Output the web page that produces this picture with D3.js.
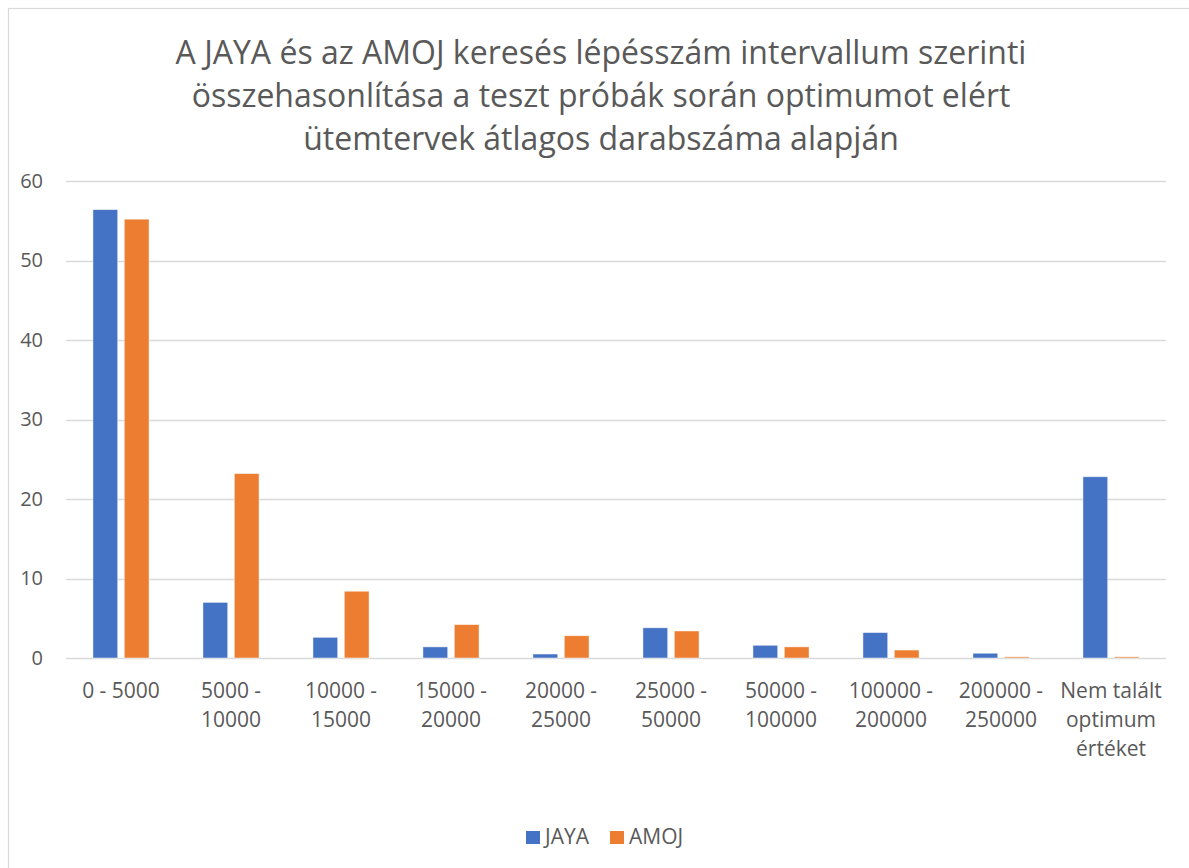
<!DOCTYPE html>
<html>
<head>
<meta charset="utf-8">
<script src="https://cdn.jsdelivr.net/npm/d3@7"></script>
<style>
  body { margin: 0; background: #fff; }
  svg { display: block; font-family: "Open Sans", "Noto Sans", sans-serif; }
</style>
</head>
<body>
<svg id="chart" width="1189" height="868"></svg>
<script>
// chart data
const categories = [
  '0 - 5000', '5000 -\n10000', '10000 -\n15000', '15000 -\n20000', '20000 -\n25000',
  '25000 -\n50000', '50000 -\n100000', '100000 -\n200000', '200000 -\n250000',
  'Nem talált\noptimum\nértéket'
];
const seriesNames = ['JAYA', 'AMOJ'];
const jayaValues = [56.4, 7.0, 2.6, 1.4, 0.5, 3.8, 1.6, 3.2, 0.6, 22.8];
const amojValues = [55.2, 23.2, 8.4, 4.2, 2.8, 3.4, 1.4, 1.0, 0.15, 0.15];
const yTicks = [0, 10, 20, 30, 40, 50, 60];
const colors = ['#4472C4', '#ED7D31'];
const titleLines = [
  'A JAYA és az AMOJ keresés lépésszám intervallum szerinti',
  'összehasonlítása a teszt próbák során optimumot elért',
  'ütemtervek átlagos darabszáma alapján'
];

const textColor = '#595959';
const gridColor = '#D9D9D9';

const svg = d3.select('#chart');
const plot = { left: 66, right: 1166, top: 181, bottom: 658 };

// chart border (runs off the right / bottom edge like the original)
svg.append('rect')
  .attr('x', 8.5).attr('y', 8.5)
  .attr('width', 1200).attr('height', 900)
  .attr('fill', '#fff')
  .attr('stroke', gridColor)
  .attr('stroke-width', 1.2);

// title
svg.append('g')
  .selectAll('text')
  .data(titleLines)
  .enter()
  .append('text')
  .attr('x', 601)
  .attr('y', (d, i) => 64 + i * 43)
  .attr('text-anchor', 'middle')
  .attr('fill', textColor)
  .style('font-size', '32px')
  .text((d) => d);

const y = d3.scaleLinear().domain([0, 60]).range([plot.bottom, plot.top]);
const x0 = d3.scaleBand()
  .domain(categories)
  .range([plot.left, plot.right])
  .paddingInner(0.49)
  .paddingOuter(0.245);
const x1 = d3.scaleBand()
  .domain(seriesNames)
  .range([0, x0.bandwidth()])
  .paddingInner(0.21);

// gridlines
svg.append('g')
  .selectAll('line')
  .data(yTicks)
  .enter()
  .append('line')
  .attr('x1', plot.left)
  .attr('x2', plot.right)
  .attr('y1', (d) => Math.round(y(d)) + 0.5)
  .attr('y2', (d) => Math.round(y(d)) + 0.5)
  .attr('stroke', gridColor)
  .attr('stroke-width', 1.3);

// y axis labels
const yAxis = svg.append('g')
  .attr('transform', 'translate(' + 43 + ',0)')
  .call(d3.axisLeft(y).tickValues(yTicks).tickSize(0).tickPadding(0));
yAxis.select('.domain').remove();
yAxis.selectAll('text')
  .attr('fill', textColor)
  .style('font-size', '20px')
  .style('font-family', '"Open Sans", sans-serif');

// bars
const rows = categories.map((c, i) => ({
  cat: c,
  vals: [
    { name: 'JAYA', value: jayaValues[i] },
    { name: 'AMOJ', value: amojValues[i] }
  ]
}));

const groups = svg.append('g')
  .selectAll('g.bar-group')
  .data(rows)
  .enter()
  .append('g')
  .attr('class', 'bar-group')
  .attr('transform', (d) => 'translate(' + x0(d.cat) + ',0)');

groups.selectAll('rect')
  .data((d) => d.vals)
  .enter()
  .append('rect')
  .attr('x', (d) => x1(d.name))
  .attr('y', (d) => y(d.value))
  .attr('width', x1.bandwidth())
  .attr('height', (d) => y(0) - y(d.value))
  .attr('fill', (d, i) => colors[i])
  .attr('stroke', '#fff')
  .attr('stroke-opacity', 0.6)
  .attr('stroke-width', 0.8);

// category labels (multi-line)
const catLabels = svg.append('g')
  .selectAll('text')
  .data(categories)
  .enter()
  .append('text')
  .attr('x', (d) => x0(d) + x0.bandwidth() / 2)
  .attr('y', 698)
  .attr('text-anchor', 'middle')
  .attr('fill', textColor)
  .style('font-size', '21px');

catLabels.selectAll('tspan')
  .data((d) => d.split('\n'))
  .enter()
  .append('tspan')
  .attr('x', function () { return d3.select(this.parentNode).attr('x'); })
  .attr('dy', (d, i) => (i === 0 ? 0 : 29))
  .text((d) => d);

// legend
const legend = svg.append('g').attr('transform', 'translate(526,0)');
const legendX = [0, 84];
seriesNames.forEach((name, i) => {
  legend.append('rect')
    .attr('x', legendX[i])
    .attr('y', 831)
    .attr('width', 14)
    .attr('height', 13)
    .attr('fill', colors[i]);
  legend.append('text')
    .attr('x', legendX[i] + 19)
    .attr('y', 844)
    .attr('fill', textColor)
    .style('font-size', '21px')
    .text(name);
});
</script>
</body>
</html>
